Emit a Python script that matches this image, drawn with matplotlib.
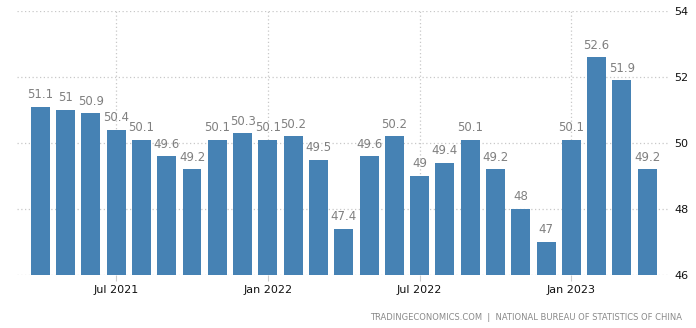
import matplotlib
matplotlib.use("Agg")
import matplotlib.pyplot as plt
import numpy as np

months = ["2021-04", "2021-05", "2021-06", "2021-07", "2021-08", "2021-09",
          "2021-10", "2021-11", "2021-12", "2022-01", "2022-02", "2022-03",
          "2022-04", "2022-05", "2022-06", "2022-07", "2022-08", "2022-09",
          "2022-10", "2022-11", "2022-12", "2023-01", "2023-02", "2023-03",
          "2023-04"]
pmi = [51.1, 51, 50.9, 50.4, 50.1, 49.6, 49.2, 50.1, 50.3, 50.1, 50.2, 49.5,
       47.4, 49.6, 50.2, 49, 49.4, 50.1, 49.2, 48, 47, 50.1, 52.6, 51.9, 49.2]
tick_months = ["2021-07", "2022-01", "2022-07", "2023-01"]
tick_labels = ["Jul 2021", "Jan 2022", "Jul 2022", "Jan 2023"]
yticks = [46, 48, 50, 52, 54]

fig = plt.figure(figsize=(6.96, 3.28), dpi=100)
ax = fig.add_axes([17/696, 1 - 275/328, (670 - 17)/696, 264/328])

x = np.arange(len(pmi))
ax.bar(x, [v - 46 for v in pmi], bottom=46, width=0.75, color="#4682b4", zorder=2)

for xi, v in zip(x, pmi):
   ax.annotate(f"{v:g}", (xi, v), xytext=(0, 4), textcoords="offset points",
               ha="center", va="bottom", fontsize=8.5, color="#808080")

ax.set_xlim(-0.92, len(pmi) - 0.1)
ax.set_ylim(46, 54)

ax.set_xticks([months.index(m) for m in tick_months])
ax.set_xticklabels(tick_labels, fontsize=8, color="#111111")
ax.tick_params(axis="x", length=4, color="#cccccc", pad=3)

ax.yaxis.tick_right()
ax.set_yticks(yticks)
ax.set_yticklabels([str(t) for t in yticks], fontsize=8, color="#111111")
ax.tick_params(axis="y", length=0, pad=3)

ax.grid(axis="both", color="#c8c8c8", linestyle=(0, (1, 2)), linewidth=0.9, zorder=0)
ax.set_axisbelow(True)
for s in ax.spines.values():
   s.set_visible(False)

fig.text(682/696, 1 - 317/328, "TRADINGECONOMICS.COM  |  NATIONAL BUREAU OF STATISTICS OF CHINA",
         ha="right", va="center", fontsize=6.0, color="#8a8a8a")

fig.savefig("out.png", dpi=100)
